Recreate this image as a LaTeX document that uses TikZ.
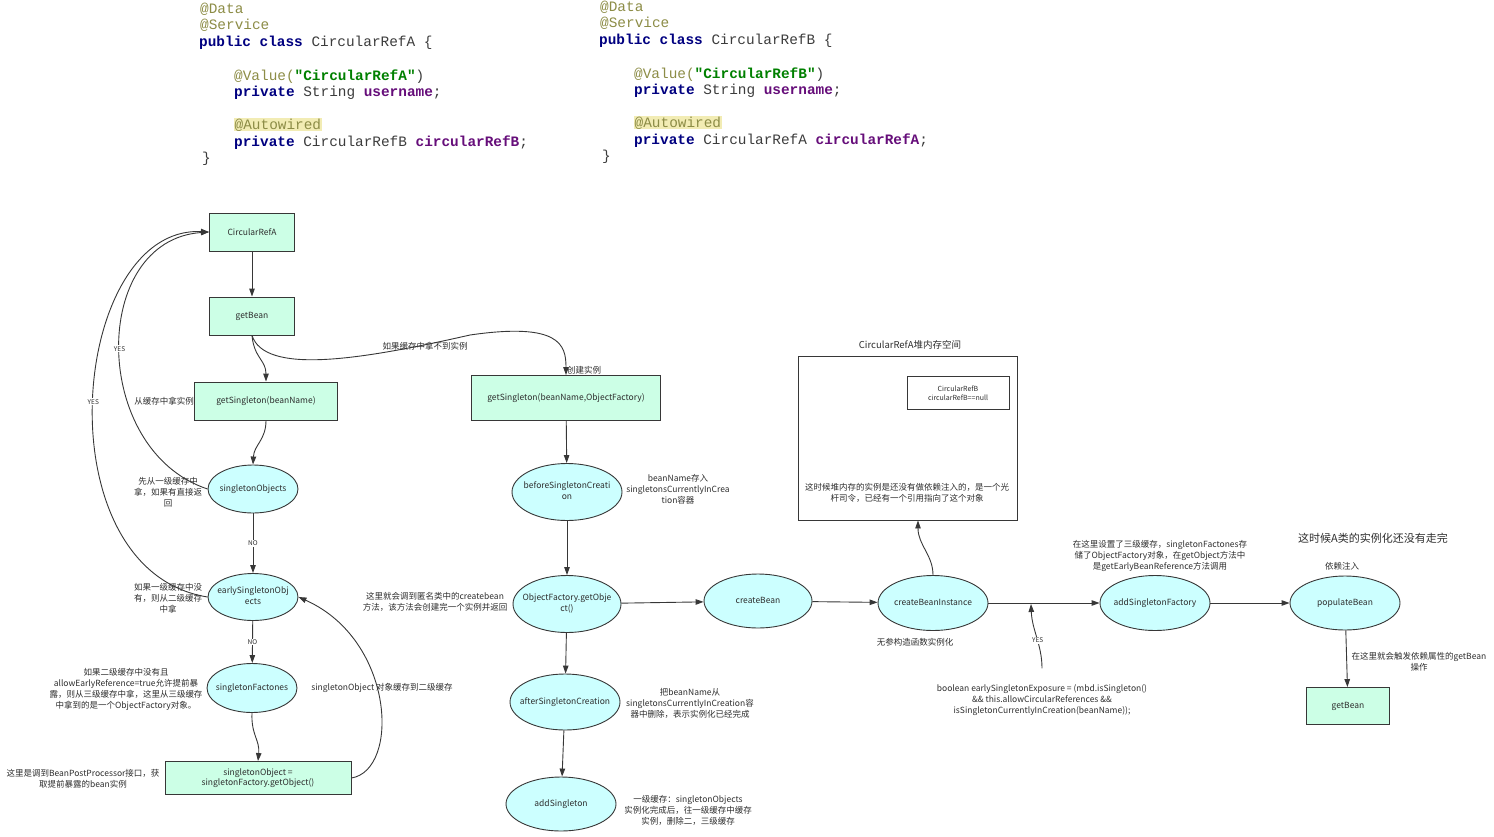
\documentclass[tikz,border=0pt]{standalone}
\usepackage{fontspec}
\usepackage{xcolor}
\setmainfont{Noto Sans CJK SC}
\newfontfamily\codefont{Liberation Mono}
\usetikzlibrary{positioning, arrows.meta, shapes.geometric}

\definecolor{linec}{RGB}{55,55,55}
\definecolor{txtc}{RGB}{45,45,45}
\definecolor{boxfill}{RGB}{204,255,230}
\definecolor{ovfill}{RGB}{204,255,255}
\definecolor{annoc}{RGB}{140,140,70}
\definecolor{kwc}{RGB}{0,0,128}
\definecolor{strc}{RGB}{0,128,0}
\definecolor{fldc}{RGB}{102,14,122}
\definecolor{plainc}{RGB}{60,60,60}
\definecolor{autobg}{RGB}{242,236,180}

\newcommand{\kw}[1]{\textcolor{kwc}{\bfseries #1}}
\newcommand{\fld}[1]{\textcolor{fldc}{\bfseries #1}}
\newcommand{\anno}[1]{\textcolor{annoc}{#1}}
\newcommand{\strlit}[1]{\textcolor{strc}{\bfseries #1}}
\newcommand{\otxt}[1]{\makebox[0pt]{\begin{tabular}{@{}c@{}}#1\end{tabular}}}

\begin{document}
\begin{tikzpicture}[x=1pt, y=-1pt,
    rbox/.style = {draw=linec, fill=boxfill, line width=0.9pt, minimum width=85pt, minimum height=38pt, inner sep=2pt, text=txtc, font=\fontsize{8.5}{10.5}\selectfont, align=center},
    oval/.style = {ellipse, draw=linec, fill=ovfill, line width=0.9pt, minimum width=110pt, minimum height=55pt, inner sep=0pt, text=txtc, font=\fontsize{8.5}{10.5}\selectfont},
    note/.style = {inner sep=1pt, align=center, text=txtc, font=\fontsize{8.5}{11}\selectfont},
    tag/.style = {fill=white, inner sep=1pt, text=txtc, font=\fontsize{6.5}{8}\selectfont},
    flow/.style = {draw=linec, line width=0.9pt, -{Triangle[length=8pt, width=5.5pt]}},
    code/.style = {anchor=base west, inner sep=0pt, text=plainc, font=\codefont\fontsize{14.4}{16}\selectfont}]
    \useasboundingbox (0,0) rectangle (1494,836);

    % 代码 CircularRefA
    \node[code] (aData) at (200,13) {\anno{@Data}};
    \node[code] (aServ) at (200,29) {\anno{@Service}};
    \node[code] (aCls) at (199,46) {\kw{public class} CircularRefA \{};
    \node[code] (aVal) at (234,80) {\anno{@Value(}\strlit{"CircularRefA"})};
    \node[code] (aUser) at (234,96) {\kw{private} String \fld{username};};
    \node[code, fill=autobg, inner sep=0.5pt] (aAuto) at (234,129) {\anno{@Autowired}};
    \node[code] (aRef) at (234,146) {\kw{private} CircularRefB \fld{circularRefB};};
    \node[code] (aEnd) at (202,162) {\}};

    % 代码 CircularRefB
    \node[code] (bData) at (600,11) {\anno{@Data}};
    \node[code] (bServ) at (600,27) {\anno{@Service}};
    \node[code] (bCls) at (599,44) {\kw{public class} CircularRefB \{};
    \node[code] (bVal) at (634,78) {\anno{@Value(}\strlit{"CircularRefB"})};
    \node[code] (bUser) at (634,94) {\kw{private} String \fld{username};};
    \node[code, fill=autobg, inner sep=0.5pt] (bAuto) at (634,127) {\anno{@Autowired}};
    \node[code] (bRef) at (634,144) {\kw{private} CircularRefA \fld{circularRefA};};
    \node[code] (bEnd) at (602,160) {\}};

    % 左侧节点
    \node[rbox] (cra) at (252,232) {CircularRefA};
    \node[rbox] (gb) at (252,316) {getBean};
    \node[rbox, minimum width=143pt] (gsn) at (266,401) {getSingleton(beanName)};
    \node[oval, minimum width=90pt, minimum height=48pt] (so) at (253,489) {\otxt{singletonObjects}};
    \node[oval, minimum width=90pt, minimum height=47pt] (eso) at (253,597) {\otxt{earlySingletonObj\\ects}};
    \node[oval, minimum width=90pt, minimum height=49pt] (sf) at (252,688) {\otxt{singletonFactones}};
    \node[rbox, minimum width=186pt, minimum height=33pt] (sob) at (258,778) {singletonObject =\\singletonFactory.getObject()};

    % 中间节点
    \node[rbox, minimum width=189pt, minimum height=45pt] (gsof) at (566,398) {getSingleton(beanName,ObjectFactory)};
    \node[oval, minimum height=57pt] (bsc) at (567,492) {\otxt{beforeSingletonCreati\\on}};
    \node[oval, minimum width=108pt, minimum height=57pt] (ofg) at (567,604) {\otxt{ObjectFactory.getObje\\ct()}};
    \node[oval, minimum height=56pt] (asc) at (565,702) {\otxt{afterSingletonCreation}};
    \node[oval, minimum height=54pt] (adds) at (561,804) {\otxt{addSingleton}};
    \node[oval, minimum width=108pt, minimum height=54pt] (cb) at (758,601) {\otxt{createBean}};
    \node[oval] (cbi) at (933,603) {\otxt{createBeanInstance}};
    \node[oval] (asf) at (1155,603) {\otxt{addSingletonFactory}};
    \node[oval, minimum height=54pt] (pb) at (1345,603) {\otxt{populateBean}};
    \node[rbox, minimum width=83pt, minimum height=37pt] (gb2) at (1348,706) {getBean};

    % 堆内存
    \node[draw=linec, line width=0.9pt, minimum width=219pt, minimum height=164pt] (mem) at (907.5,438) {};
    \node[note, font=\fontsize{9.5}{11}\selectfont] (memTitle) at (910,345) {CircularRefA堆内存空间};
    \node[draw=linec, line width=0.9pt, minimum width=102pt, minimum height=33pt, inner sep=1pt, align=center, text=txtc, font=\fontsize{7}{8.5}\selectfont] (memB) at (958,393) {CircularRefB\\circularRefB==null};
    \node[note] (memTxt) at (907,493) {这时候堆内存的实例是还没有做依赖注入的，是一个光\\杆司令，已经有一个引用指向了这个对象};

    % 说明文字
    \node[note, anchor=east] (n1) at (195,401) {从缓存中拿实例};
    \node[note] (n2) at (168,492) {先从一级缓存中\\拿，如果有直接返\\回};
    \node[note] (n3) at (168,598) {如果一级缓存中没\\有，则从二级缓存\\中拿};
    \node[note] (n4) at (126,689) {如果二级缓存中没有且\\allowEarlyReference=true允许提前暴\\露，则从三级缓存中拿，这里从三级缓存\\中拿到的是一个ObjectFactory对象。};
    \node[note] (n5) at (83,779) {这里是调到BeanPostProcessor接口，获\\取提前暴露的bean实例};
    \node[note] (n6) at (382,688) {singletonObject 对象缓存到二级缓存};
    \node[note] (n7) at (435,602) {这里就会调到匿名类中的createbean\\方法，该方法会创建完一个实例并返回};
    \node[note] (n8) at (678,489) {beanName存入\\singletonsCurrentlyInCrea\\tion容器};
    \node[note] (n9) at (690,703) {把beanName从\\singletonsCurrentlyInCreation容\\器中删除，表示实例化已经完成};
    \node[note] (n10) at (688,810) {一级缓存：singletonObjects\\实例化完成后，往一级缓存中缓存\\实例，删除二，三级缓存};
    \node[note] (n11) at (425,346) {如果缓存中拿不到实例};
    \node[note, anchor=west] (n12) at (566,370) {创建实例};
    \node[note] (n15) at (915,642) {无参构造函数实例化};
    \node[note] (expo) at (1042,700) {boolean earlySingletonExposure = (mbd.isSingleton()\\\&\& this.allowCircularReferences \&\&\\isSingletonCurrentlyInCreation(beanName));};
    \node[note] (n17) at (1160,556) {在这里设置了三级缓存，singletonFactones存\\储了ObjectFactory对象，在getObject方法中\\是getEarlyBeanReference方法调用};
    \node[note, font=\fontsize{11}{13}\selectfont] (n18) at (1373,538) {这时候A类的实例化还没有走完};
    \node[note] (n19) at (1342,566) {依赖注入};
    \node[note] (n20) at (1419,662) {在这里就会触发依赖属性的getBean\\操作};
    \coordinate (yesEnd) at (1031,604);

    % 连线
    \draw[flow] (cra) -- (gb);
    \draw[flow] (gb.south) .. controls (254,358) and (266,360) .. (gsn.north);
    \draw[flow] (gb.south) .. controls (265,375) and (360,360) .. (470,335) .. controls (560,322) and (566,345) .. (gsof.north);
    \draw[flow] (gsn.south) .. controls (266,440) and (254,445) .. (so.north);
    \draw[flow] (so) -- node[tag] (no1) {NO} (eso);
    \draw[flow] (eso) -- node[tag] (no2) {NO} (sf);
    \draw[flow] (sf.south) .. controls (251,735) and (260,740) .. (sob.north);
    \draw[flow] (so.west) .. controls (90,450) and (90,240) .. node[tag] (yes1) {YES} (cra.west);
    \draw[flow] (eso.west) .. controls (40,570) and (70,225) .. node[tag] (yes2) {YES} (cra.west);
    \draw[flow] (sob.east) .. controls (400,770) and (395,640) .. (eso.east);
    \draw[flow] (gsof) -- (bsc);
    \draw[flow] (bsc) -- (ofg);
    \draw[flow] (ofg) -- (asc);
    \draw[flow] (asc) -- (adds);
    \draw[flow] (ofg) -- (cb);
    \draw[flow] (cb) -- (cbi);
    \draw[flow] (cbi.north) .. controls (933,555) and (918,545) .. ([xshift=10.5pt]mem.south);
    \draw[flow] (cbi) -- (asf);
    \draw[flow] (asf) -- (pb);
    \draw[flow] (pb) -- (gb2);
    \draw[flow] ([yshift=15pt]expo.north) .. controls (1042,645) and (1032,630) .. node[tag, pos=0.45] (yes3) {YES} (yesEnd);
\end{tikzpicture}
\end{document}
